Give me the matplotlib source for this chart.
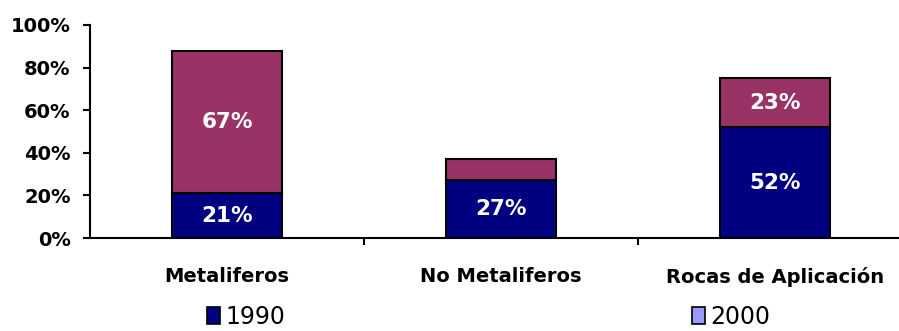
import matplotlib
matplotlib.use('Agg')
import matplotlib.pyplot as plt
from matplotlib.patches import Patch
from matplotlib.ticker import FixedLocator, FuncFormatter

categories = ['Metaliferos', 'No Metaliferos', 'Rocas de Aplicación']
v1990 = [21, 27, 52]
v2000 = [67, 10, 23]
yticks = [0, 20, 40, 60, 80, 100]

navy = '#000080'
maroon = '#993366'
lila = '#9999FF'

fig = plt.figure(figsize=(8.99, 3.31), dpi=100)
ax = fig.add_axes([90 / 899, 93 / 331, 822 / 899, 213 / 331])

x = list(range(len(categories)))
ax.bar(x, v1990, width=0.40, color=navy, edgecolor='black', linewidth=1.5, zorder=2)
ax.bar(x, v2000, width=0.40, bottom=v1990, color=maroon, edgecolor='black', linewidth=1.5, zorder=2)

# etiquetas de datos
for i in x:
    ax.text(i, v1990[i] / 2, '%d%%' % v1990[i], ha='center', va='center',
            color='white', fontsize=15.5, fontweight='bold', zorder=3)
    top_mid = v1990[i] + v2000[i] / 2
    if v2000[i] < 15:
        # etiqueta que no cabe: queda detras de la barra
        ax.annotate('%d%%' % v2000[i], (i, top_mid), xytext=(0, 5), textcoords='offset points',
                    ha='center', va='center', color='white', fontsize=15.5,
                    fontweight='bold', zorder=1)
    else:
        ax.text(i, top_mid, '%d%%' % v2000[i], ha='center', va='center',
                color='white', fontsize=15.5, fontweight='bold', zorder=3)

ax.set_xlim(-0.5, len(categories) - 0.5)
ax.set_ylim(0, 100)
ax.set_yticks(yticks)
ax.yaxis.set_major_formatter(FuncFormatter(lambda v, p: '%d%%' % v))
ax.set_xticks(x)
ax.set_xticklabels(categories)
ax.xaxis.set_minor_locator(FixedLocator([i + 0.5 for i in x]))

ax.spines['top'].set_visible(False)
ax.spines['right'].set_visible(False)
ax.spines['left'].set_linewidth(1.5)
ax.spines['bottom'].set_linewidth(1.5)
ax.tick_params(axis='y', direction='out', length=5, width=1.5, pad=9, labelsize=14)
for lab in ax.get_yticklabels():
    lab.set_fontweight('bold')
ax.tick_params(axis='x', which='major', length=0, pad=21, labelsize=14)
ax.tick_params(axis='x', which='minor', direction='out', length=5, width=1.5)
for lab in ax.get_xticklabels():
    lab.set_fontweight('bold')

# leyenda
h1 = Patch(facecolor=navy, edgecolor='black', linewidth=1.2, label='1990')
h2 = Patch(facecolor=lila, edgecolor='black', linewidth=1.2, label='2000')
for h, xpos in [(h1, 207 / 899), (h2, 692 / 899)]:
    fig.legend(handles=[h], loc='center left', bbox_to_anchor=(xpos, 14 / 331),
               frameon=False, fontsize=17, borderpad=0, borderaxespad=0,
               handlelength=0.56, handleheight=0.7, handletextpad=0.2)

fig.savefig('out.png', dpi=100)
